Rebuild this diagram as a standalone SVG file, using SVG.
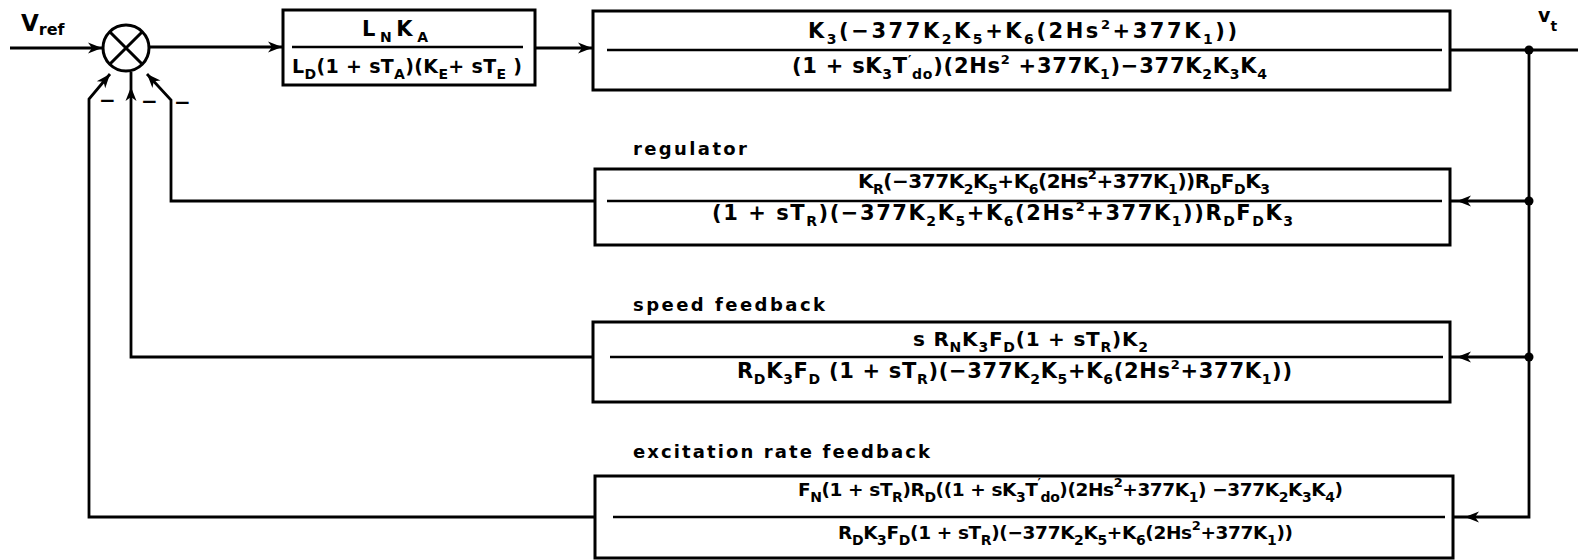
<svg xmlns="http://www.w3.org/2000/svg" xmlns:xlink="http://www.w3.org/1999/xlink" width="1578" height="560" viewBox="0 0 1578 560">
<style>
.bg{fill:#fff}
.box{fill:none;stroke:#000;stroke-width:3}
.frac{stroke:#000;stroke-width:2.6}
.wire{fill:none;stroke:#000;stroke-width:2.8;stroke-linejoin:miter}
.t{font-family:"DejaVu Sans","Liberation Sans",sans-serif;font-weight:bold;font-size:21px;fill:#000}
.lab{font-family:"DejaVu Sans","Liberation Sans",sans-serif;font-weight:bold;font-size:18px;fill:#000}
.s{font-size:14px}
.p{font-size:13px}
.dot{fill:#000}
</style>
<defs>
<path id="ah" d="M0,0 L-14,-5.5 L-10,0 L-14,5.5 Z" fill="#000"/>
</defs>
<rect class="bg" x="0" y="0" width="1578" height="560"/>

<g id="connectors">
<path class="wire" d="M10,48 H102"/>
<use xlink:href="#ah" transform="translate(102,48)"/>
<path class="wire" d="M150,47 H283"/>
<use xlink:href="#ah" transform="translate(282,47)"/>
<path class="wire" d="M535,48 H593"/>
<use xlink:href="#ah" transform="translate(592,48)"/>
<path class="wire" d="M1450,50 H1578"/>
<path class="wire" d="M1529,50 V517 H1453"/>
<use xlink:href="#ah" transform="translate(1465,517) rotate(180)"/>
<path class="wire" d="M1529,201 H1450"/>
<use xlink:href="#ah" transform="translate(1457,201) rotate(180)"/>
<path class="wire" d="M1529,357 H1450"/>
<use xlink:href="#ah" transform="translate(1457,357) rotate(180)"/>
<path class="wire" d="M595,201 H171 V100 L147,74"/>
<use xlink:href="#ah" transform="translate(147,74) rotate(-132.7)"/>
<path class="wire" d="M593,357 H131 V72"/>
<use xlink:href="#ah" transform="translate(131,87) rotate(-90)"/>
<path class="wire" d="M595,517 H89 V99 L110,74"/>
<use xlink:href="#ah" transform="translate(110,74) rotate(-50)"/>
<circle class="dot" cx="1529" cy="50" r="4.5"/>
<circle class="dot" cx="1529" cy="201" r="4.5"/>
<circle class="dot" cx="1529" cy="357" r="4.5"/>
</g>

<g id="signals">
<text class="t" x="21" y="31" style="font-size:23px">V<tspan class="s" style="font-size:16px" dy="4">ref</tspan></text>
<text class="t" x="1538" y="22" style="font-size:19px">v<tspan class="s" dy="9">t</tspan></text>
</g>

<g id="sum">
<circle cx="126" cy="48" r="23" fill="none" stroke="#000" stroke-width="3"/>
<path d="M109.7,31.7 L142.3,64.3 M142.3,31.7 L109.7,64.3" stroke="#000" stroke-width="3"/>
<text class="t" x="99" y="107" style="font-size:20px">−</text>
<text class="t" x="141" y="108" style="font-size:20px">−</text>
<text class="t" x="174" y="109" style="font-size:20px">−</text>
</g>

<g id="block-exciter">
<rect class="box" x="283" y="10" width="252" height="75"/>
<line class="frac" x1="292" y1="47" x2="523" y2="47"/>
<text class="t" x="362" y="36" textLength="66" lengthAdjust="spacing">L<tspan class="s" dy="6">N</tspan><tspan dy="-6">K</tspan><tspan class="s" dy="6">A</tspan></text>
<text class="t" x="292" y="73" style="font-size:19px" textLength="230" lengthAdjust="spacing">L<tspan class="s" dy="6">D</tspan><tspan dy="-6">(1 + sT</tspan><tspan class="s" dy="6">A</tspan><tspan dy="-6">)(K</tspan><tspan class="s" dy="6">E</tspan><tspan dy="-6">+ sT</tspan><tspan class="s" dy="6">E</tspan><tspan dy="-6"> )</tspan></text>
</g>

<g id="block-generator">
<rect class="box" x="593" y="11" width="857" height="79"/>
<line class="frac" x1="607" y1="50" x2="1442" y2="50"/>
<text class="t" x="808" y="38" textLength="429" lengthAdjust="spacing">K<tspan class="s" dy="6">3</tspan><tspan dy="-6">(−377K</tspan><tspan class="s" dy="6">2</tspan><tspan dy="-6">K</tspan><tspan class="s" dy="6">5</tspan><tspan dy="-6">+K</tspan><tspan class="s" dy="6">6</tspan><tspan dy="-6">(2Hs</tspan><tspan class="p" dy="-9">2</tspan><tspan dy="9">+377K</tspan><tspan class="s" dy="6">1</tspan><tspan dy="-6">))</tspan></text>
<text class="t" x="792" y="73" textLength="475" lengthAdjust="spacing">(1 + sK<tspan class="s" dy="6">3</tspan><tspan dy="-6">T</tspan><tspan class="p" dy="-9">′</tspan><tspan class="s" dy="15">do</tspan><tspan dy="-6">)(2Hs</tspan><tspan class="p" dy="-9">2</tspan><tspan dy="9"> +377K</tspan><tspan class="s" dy="6">1</tspan><tspan dy="-6">)−377K</tspan><tspan class="s" dy="6">2</tspan><tspan dy="-6">K</tspan><tspan class="s" dy="6">3</tspan><tspan dy="-6">K</tspan><tspan class="s" dy="6">4</tspan></text>
</g>

<g id="block-regulator">
<text class="lab" x="633" y="155" textLength="114" lengthAdjust="spacing">regulator</text>
<rect class="box" x="595" y="169" width="855" height="76"/>
<line class="frac" x1="607" y1="201" x2="1442" y2="201"/>
<text class="t" x="858" y="188" style="font-size:20px" textLength="412" lengthAdjust="spacing">K<tspan class="s" dy="6">R</tspan><tspan dy="-6">(−377K</tspan><tspan class="s" dy="6">2</tspan><tspan dy="-6">K</tspan><tspan class="s" dy="6">5</tspan><tspan dy="-6">+K</tspan><tspan class="s" dy="6">6</tspan><tspan dy="-6">(2Hs</tspan><tspan class="p" dy="-9">2</tspan><tspan dy="9">+377K</tspan><tspan class="s" dy="6">1</tspan><tspan dy="-6">))R</tspan><tspan class="s" dy="6">D</tspan><tspan dy="-6">F</tspan><tspan class="s" dy="6">D</tspan><tspan dy="-6">K</tspan><tspan class="s" dy="6">3</tspan></text>
<text class="t" x="712" y="220" textLength="581" lengthAdjust="spacing">(1 + sT<tspan class="s" dy="6">R</tspan><tspan dy="-6">)(−377K</tspan><tspan class="s" dy="6">2</tspan><tspan dy="-6">K</tspan><tspan class="s" dy="6">5</tspan><tspan dy="-6">+K</tspan><tspan class="s" dy="6">6</tspan><tspan dy="-6">(2Hs</tspan><tspan class="p" dy="-9">2</tspan><tspan dy="9">+377K</tspan><tspan class="s" dy="6">1</tspan><tspan dy="-6">))R</tspan><tspan class="s" dy="6">D</tspan><tspan dy="-6">F</tspan><tspan class="s" dy="6">D</tspan><tspan dy="-6">K</tspan><tspan class="s" dy="6">3</tspan></text>
</g>

<g id="block-speed">
<text class="lab" x="633" y="311" textLength="192" lengthAdjust="spacing">speed  feedback</text>
<rect class="box" x="593" y="322" width="857" height="80"/>
<line class="frac" x1="610" y1="357" x2="1443" y2="357"/>
<text class="t" x="913" y="346" style="font-size:20px" textLength="235" lengthAdjust="spacing">s R<tspan class="s" dy="6">N</tspan><tspan dy="-6">K</tspan><tspan class="s" dy="6">3</tspan><tspan dy="-6">F</tspan><tspan class="s" dy="6">D</tspan><tspan dy="-6">(1 + sT</tspan><tspan class="s" dy="6">R</tspan><tspan dy="-6">)K</tspan><tspan class="s" dy="6">2</tspan></text>
<text class="t" x="737" y="378" textLength="555" lengthAdjust="spacing">R<tspan class="s" dy="6">D</tspan><tspan dy="-6">K</tspan><tspan class="s" dy="6">3</tspan><tspan dy="-6">F</tspan><tspan class="s" dy="6">D</tspan><tspan dy="-6"> (1 + sT</tspan><tspan class="s" dy="6">R</tspan><tspan dy="-6">)(−377K</tspan><tspan class="s" dy="6">2</tspan><tspan dy="-6">K</tspan><tspan class="s" dy="6">5</tspan><tspan dy="-6">+K</tspan><tspan class="s" dy="6">6</tspan><tspan dy="-6">(2Hs</tspan><tspan class="p" dy="-9">2</tspan><tspan dy="9">+377K</tspan><tspan class="s" dy="6">1</tspan><tspan dy="-6">))</tspan></text>
</g>

<g id="block-excitation">
<text class="lab" x="633" y="458" textLength="297" lengthAdjust="spacing">excitation  rate  feedback</text>
<rect class="box" x="595" y="476" width="858" height="82"/>
<line class="frac" x1="613" y1="517" x2="1445" y2="517"/>
<text class="t" x="798" y="496" style="font-size:18.5px" textLength="545" lengthAdjust="spacing">F<tspan class="s" dy="6">N</tspan><tspan dy="-6">(1 + sT</tspan><tspan class="s" dy="6">R</tspan><tspan dy="-6">)R</tspan><tspan class="s" dy="6">D</tspan><tspan dy="-6">((1 + sK</tspan><tspan class="s" dy="6">3</tspan><tspan dy="-6">T</tspan><tspan class="p" dy="-9">′</tspan><tspan class="s" dy="15">do</tspan><tspan dy="-6">)(2Hs</tspan><tspan class="p" dy="-9">2</tspan><tspan dy="9">+377K</tspan><tspan class="s" dy="6">1</tspan><tspan dy="-6">) −377K</tspan><tspan class="s" dy="6">2</tspan><tspan dy="-6">K</tspan><tspan class="s" dy="6">3</tspan><tspan dy="-6">K</tspan><tspan class="s" dy="6">4</tspan><tspan dy="-6">)</tspan></text>
<text class="t" x="838" y="539" style="font-size:18.5px" textLength="455" lengthAdjust="spacing">R<tspan class="s" dy="6">D</tspan><tspan dy="-6">K</tspan><tspan class="s" dy="6">3</tspan><tspan dy="-6">F</tspan><tspan class="s" dy="6">D</tspan><tspan dy="-6">(1 + sT</tspan><tspan class="s" dy="6">R</tspan><tspan dy="-6">)(−377K</tspan><tspan class="s" dy="6">2</tspan><tspan dy="-6">K</tspan><tspan class="s" dy="6">5</tspan><tspan dy="-6">+K</tspan><tspan class="s" dy="6">6</tspan><tspan dy="-6">(2Hs</tspan><tspan class="p" dy="-9">2</tspan><tspan dy="9">+377K</tspan><tspan class="s" dy="6">1</tspan><tspan dy="-6">))</tspan></text>
</g>
</svg>
